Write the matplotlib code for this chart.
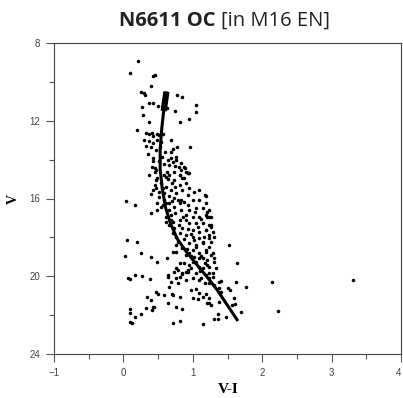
import matplotlib
matplotlib.use('Agg')
import matplotlib.pyplot as plt

# Colour-magnitude data: V-I colour and V magnitude for each star
star_vi = [
    0.21, 0.09, 0.42, 0.46, 0.40, 0.25, 0.29, 0.31, 0.37, 0.43, 0.27, 0.50, 0.59, 0.63,
    0.77, 0.84, 1.05, 1.05, 0.75, 0.95, 0.81, 0.37, 0.28, 0.20, 0.33, 0.365, 0.41, 0.43,
    0.48, 0.51, 0.57, 0.30, 0.37, 0.42, 0.48, 0.54, 0.32, 0.40, 0.47, 0.53, 0.35, 0.42,
    0.41, 0.47, 0.375, 0.69, 0.72, 0.77, 0.69, 0.96, 0.64, 0.69, 0.72, 0.76, 0.66, 0.75,
    0.80, 0.83, 0.89, 0.93, 0.81, 0.73, 0.63, 0.59, 0.42, 0.45, 0.45, 0.49, 0.83, 0.88,
    0.90, 0.94, 0.85, 0.76,
    # dense main sequence
    0.81, 0.88, 0.93, 0.66, 0.73, 0.81, 0.90, 0.95, 1.02, 1.09, 1.17, 0.85, 0.76, 0.69,
    0.93, 0.83, 0.73, 1.00, 1.09, 1.19, 0.93, 0.81, 0.73, 0.83, 0.95, 1.05, 1.14, 1.24,
    0.90, 1.00, 1.09, 1.19, 1.26, 0.81, 0.95, 1.05, 1.14, 1.24, 0.85, 1.00, 1.09, 1.19,
    1.29, 0.90, 1.00, 1.09, 1.24, 1.31, 0.95, 1.05, 1.14, 1.24, 0.85, 1.00, 1.09, 1.19,
    1.29, 0.76, 0.90, 1.02, 1.14, 1.21, 1.31, 0.81, 0.95, 1.09, 1.24, 1.33, 0.93, 1.05,
    1.19, 1.29, 0.81, 0.90, 1.09, 1.24, 1.31, 0.73, 0.64, 0.69, 0.85,
    0.54, 0.57, 0.52, 0.59, 0.61, 0.54, 0.66, 0.61, 0.69, 0.66, 0.73, 0.71, 0.76, 0.78,
    0.66, 0.49, 0.59, 0.47, 0.61,
    0.64, 0.70, 0.62, 0.75, 0.66, 0.78, 0.70, 0.88, 0.75, 0.68, 0.86, 0.80, 0.72, 0.90,
    0.82, 0.93, 0.88, 0.97, 1.02, 0.92, 0.98, 1.12, 1.05, 1.17, 1.10, 0.98, 1.03, 1.12,
    1.07, 1.16, 0.58, 0.55, 0.60, 0.52,
    # blue side and faint field stars
    0.04, 0.17, 0.40, 0.42, 0.45, 0.47, 0.52, 0.40, 0.49, 0.61, 0.57, 0.05, 0.19, 0.02,
    0.26, 0.40, 0.48, 0.63, 0.06, 0.10, 0.17, 0.27, 0.38, 0.64, 0.34, 0.47, 0.50, 0.40,
    0.59, 0.64, 0.70, 0.44, 0.33, 0.09, 0.09, 0.16, 0.25, 0.43, 0.41, 0.09, 0.13, 0.71,
    0.81, 0.76, 0.84, 1.15, 1.31, 1.37, 1.37, 1.48, 1.23, 1.26, 1.70, 1.61, 1.38, 2.23,
    2.14, 3.31, 1.52, 1.64, 1.77, 1.41, 1.38, 1.50, 1.53, 1.60, 1.62, 1.57, 0.71, 0.81,
    0.97, 1.05, 1.09, 1.14, 1.19, 1.24, 1.21, 1.00, 1.07, 0.90, 0.85, 0.78, 0.76, 1.00,
    1.12, 1.17, 1.24, 0.78, 0.66,
    0.76, 0.85, 0.71, 0.95, 1.05, 1.14, 1.19, 1.26, 1.09, 1.00, 0.88, 0.76, 0.93, 1.14,
    1.21, 1.24, 1.29, 1.19, 1.21, 1.26, 1.26, 1.31, 1.38, 1.41, 1.24, 1.26, 1.21, 1.19,
    1.24,
]
star_v = [
    8.95, 9.52, 9.68, 9.66, 10.19, 10.53, 10.55, 10.69, 11.10, 11.07, 11.31, 11.24, 11.22, 11.36,
    10.69, 10.79, 11.17, 11.56, 11.50, 11.92, 12.08, 12.04, 11.70, 12.49, 12.64, 12.68, 12.64, 12.78,
    12.68, 12.71, 12.68, 12.99, 13.02, 13.12, 12.99, 13.07, 13.30, 13.36, 13.50, 13.36, 13.71, 13.93,
    14.39, 14.53, 14.79, 12.99, 13.47, 13.36, 13.59, 13.36, 14.02, 13.93, 14.10, 14.02, 14.27, 14.32,
    14.39, 14.53, 14.44, 14.70, 14.79, 14.62, 14.62, 14.79, 14.07, 14.45, 14.62, 14.96, 14.19, 14.36,
    14.62, 14.70, 14.96, 13.85,
    14.79, 14.96, 14.67, 14.79, 15.04, 15.30, 15.22, 15.47, 15.64, 15.56, 15.82, 15.56, 15.73, 15.56,
    15.82, 16.07, 15.99, 16.07, 16.07, 16.25, 16.33, 16.25, 16.42, 16.59, 16.59, 16.50, 16.50, 16.59,
    16.85, 16.93, 16.93, 16.85, 16.93, 17.10, 17.27, 17.27, 17.27, 17.36, 17.53, 17.62, 17.70, 17.62,
    17.70, 17.87, 17.96, 18.05, 18.05, 17.96, 18.30, 18.39, 18.30, 18.48, 18.48, 18.65, 18.82, 18.73,
    18.82, 18.73, 18.90, 18.99, 19.08, 19.16, 19.08, 19.33, 19.42, 19.50, 19.50, 19.59, 19.68, 19.85,
    19.93, 19.85, 20.02, 20.19, 20.19, 20.36, 20.45, 19.76, 20.02, 20.28, 19.85,
    15.22, 15.47, 15.90, 16.07, 16.25, 16.42, 16.59, 16.93, 17.10, 17.36, 17.53, 17.79, 17.96, 18.22,
    16.25, 16.25, 15.73, 15.04, 14.87,
    15.00, 15.20, 15.40, 15.40, 15.85, 16.10, 16.15, 16.20, 16.75, 16.85, 16.95, 17.35, 17.20, 17.10,
    17.75, 17.55, 18.10, 17.85, 18.15, 18.60, 18.95, 18.95, 19.25, 19.30, 19.75, 19.60, 16.70, 17.05,
    17.45, 18.00, 14.20, 13.85, 13.60, 14.05,
    16.13, 16.33, 15.77, 15.56, 15.30, 15.47, 15.65, 16.73, 16.60, 17.19, 16.33, 18.12, 18.25, 18.96,
    18.82, 19.03, 19.25, 19.04, 20.07, 20.14, 19.95, 19.97, 20.16, 19.93, 21.05, 20.83, 20.93, 21.22,
    20.96, 21.36, 20.93, 21.56, 21.65, 21.70, 21.91, 22.08, 21.94, 21.60, 21.73, 22.33, 22.39, 22.38,
    22.28, 21.60, 21.70, 22.48, 22.21, 22.21, 21.94, 22.11, 21.39, 21.48, 21.82, 21.42, 21.30, 21.77,
    20.28, 20.21, 18.39, 19.33, 20.53, 20.24, 20.62, 20.62, 20.70, 21.13, 20.28, 21.48, 20.96, 21.05,
    20.70, 20.65, 20.88, 21.05, 20.93, 21.13, 21.39, 21.13, 21.17, 19.80, 19.90, 19.68, 20.07, 20.10,
    20.07, 20.36, 20.10, 20.36, 20.53,
    18.39, 18.57, 18.74, 18.82, 18.48, 18.22, 18.65, 18.91, 19.08, 19.25, 19.34, 19.60, 19.77, 19.60,
    19.42, 19.85, 20.02, 15.87, 16.93, 17.45, 18.22, 19.25, 20.28, 20.79, 16.94, 17.37, 16.68, 17.62,
    17.88,
]

# Isochrone traced by the thick curve
iso_vi = [0.62, 0.58, 0.55, 0.53, 0.53, 0.56, 0.61, 0.68, 0.78, 0.92, 1.08, 1.22, 1.35, 1.50, 1.65]
iso_v = [10.5, 11.5, 12.5, 13.5, 14.5, 15.5, 16.5, 17.3, 18.1, 18.8, 19.5, 20.1, 20.7, 21.5, 22.3]

x_ticks = [-1, 0, 1, 2, 3, 4]
y_ticks = [8, 12, 16, 20, 24]

fig = plt.figure(figsize=(4.03, 3.98), dpi=100)
ax = fig.add_axes([54 / 403, 44 / 398, 347 / 403, 311 / 398])

ax.scatter(star_vi, star_v, s=6.5, color='black', linewidths=0, zorder=2)
ax.plot(iso_vi, iso_v, color='black', lw=2.2, solid_capstyle='butt', zorder=3)
ax.plot(iso_vi[:2], iso_v[:2], color='black', lw=4.5, solid_capstyle='butt', zorder=3)

ax.set_xlim(-1, 4)
ax.set_ylim(24, 8)
ax.set_xticks(x_ticks)
ax.set_yticks(y_ticks)
ax.set_xticks([-0.5, 0.5, 1.5, 2.5, 3.5], minor=True)
ax.set_yticks([10, 14, 18, 22], minor=True)

for sp in ax.spines.values():
    sp.set_color('#444444')
    sp.set_linewidth(0.8)
ax.tick_params(which='major', direction='out', length=5.5, width=0.8, color='#555555',
               labelsize=7, labelcolor='#444444', pad=4.5)
ax.tick_params(which='minor', direction='out', length=3.5, width=0.8, color='#555555')
for lab in ax.get_xticklabels() + ax.get_yticklabels():
    lab.set_fontfamily('Liberation Sans')
# keep the last x label inside the picture
ax.get_xticklabels()[-1].set_horizontalalignment('right')

# Axis names in a serif face, as in the original figure
fig.text(0.032, 0.5, 'V', rotation=90, ha='center', va='center',
         family='Liberation Serif', fontweight='bold', fontsize=10)
fig.text(228 / 403, 1 - 383 / 398, 'V-I', ha='center', va='top',
         family='Liberation Serif', fontweight='bold', fontsize=11)

# Title: bold name followed by regular bracket part
fig.text(215 / 403, 1 - 21 / 398, 'N6611 OC', ha='right', va='center',
         family='Open Sans', fontweight='bold', fontsize=14.5, color='#222222')
fig.text(221 / 403, 1 - 21 / 398, '[in M16 EN]', ha='left', va='center',
         family='Open Sans', fontsize=14.5, color='#222222')

fig.savefig('out.png', dpi=100)
